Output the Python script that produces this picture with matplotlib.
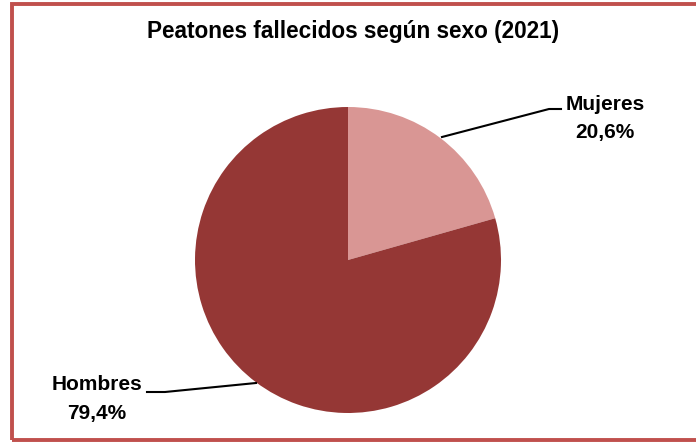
import matplotlib.pyplot as plt
from matplotlib.patches import Rectangle

# --- Datos
categorias = ["Mujeres", "Hombres"]
porcentajes = [20.6, 79.4]
colores = ["#d99694", "#953735"]

W, H = 696, 443
fig = plt.figure(figsize=(W / 100, H / 100), dpi=100)
ax = fig.add_axes([0, 0, 1, 1])
ax.set_xlim(0, W)
ax.set_ylim(0, H)
ax.set_aspect("equal")
ax.axis("off")

# borde del gráfico
ax.add_patch(Rectangle((12, 3.5), 700, 436, fill=False, edgecolor="#c0504d", lw=2.8))

cx, cy, r = 348, H - 260, 153
ax.pie(porcentajes, colors=colores, startangle=90, counterclock=False,
       center=(cx, cy), radius=r, frame=True)
ax.set_xlim(0, W)
ax.set_ylim(0, H)
ax.axis("off")

fuente = "Liberation Sans"
ax.text(353, H - 31, "Peatones fallecidos según sexo (2021)", ha="center", va="center",
        fontsize=16.3, fontweight="bold", family=fuente)

def etiqueta(nombre, valor, x, y):
    txt = f"{nombre}\n{valor:.1f}%".replace(".", ",")
    ax.text(x, y, txt, ha="center", va="center", fontsize=15, fontweight="bold",
            family=fuente, linespacing=1.6)

etiqueta(categorias[0], porcentajes[0], 605, H - 118)
etiqueta(categorias[1], porcentajes[1], 97, H - 399)

# líneas guía
ax.plot([442, 549, 561], [H - 137, H - 109, H - 109], color="black", lw=1.5)
ax.plot([256, 165, 147], [H - 383, H - 392, H - 392], color="black", lw=1.5)

fig.savefig("out.png", dpi=100)
